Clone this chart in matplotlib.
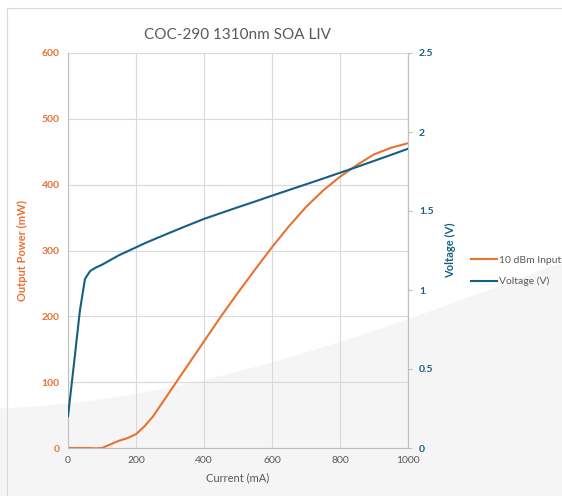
import matplotlib
matplotlib.use("Agg")
import numpy as np
import matplotlib.pyplot as plt
from matplotlib.patches import Polygon, Rectangle
from matplotlib.ticker import FuncFormatter

# Data
current_ma = [0, 20, 35, 50, 65, 80, 100, 150, 175, 200, 225, 250, 300, 350,
              400, 450, 500, 550, 600, 650, 700, 750, 800, 850, 900, 950, 1000]
power_mw = [0, 0, 0, 0, 0, -0.5, 0, 11, 15, 21, 33, 48, 86, 124,
            162, 200, 236, 271, 305, 337, 366, 391, 412, 430, 446, 456, 463]
voltage_v = [0.20, 0.58, 0.87, 1.07, 1.12, 1.14, 1.16, 1.22, 1.245, 1.27, 1.295, 1.318, 1.363, 1.407,
             1.45, 1.487, 1.524, 1.56, 1.597, 1.633, 1.669, 1.705, 1.742, 1.779, 1.817, 1.855, 1.894]
power_ticks = [0, 100, 200, 300, 400, 500, 600]
voltage_ticks = [0, 0.5, 1, 1.5, 2, 2.5]
current_ticks = [0, 200, 400, 600, 800, 1000]

orange = "#E97132"
teal = "#156082"
grey_txt = "#595959"

plt.rcParams['font.family'] = ['Lato', 'DejaVu Sans']

W, H = 562, 496
fig = plt.figure(figsize=(W / 100, H / 100), dpi=100)
fig.patch.set_facecolor("white")

# background swoosh (decoration), smooth edge through points
edge_x = [0, 63, 127, 190, 253, 317, 379, 450, 523, 562]
edge_y = [409, 404, 393, 383, 370, 350, 328, 303, 277, 263]
coef = np.polyfit(edge_x, edge_y, 3)
xs = np.linspace(0, W, 120)
ys = np.polyval(coef, xs)
pts = [(x / W, 1 - y / H) for x, y in zip(xs, ys)] + [(1, 0), (0, 0)]
fig.add_artist(Polygon(pts, closed=True, transform=fig.transFigure,
                       facecolor="#f5f5f5", edgecolor="none", zorder=0))
# card border
fig.add_artist(Rectangle((7 / W, -0.1), 1.2, 1.1 - 8 / H, transform=fig.transFigure,
                         facecolor="none", edgecolor="#d9d9d9", lw=0.8, zorder=0))

ax = fig.add_axes([68 / W, 1 - 448 / H, (408 - 68) / W, (448 - 53) / H])
ax.patch.set_alpha(0)
ax.plot(current_ma, power_mw, color=orange, lw=1.5, label="10 dBm Input")
ax.set_xlim(0, 1000)
ax.set_ylim(0, 600)
ax.set_xticks(current_ticks)
ax.set_yticks(power_ticks)
ax.grid(True, color="#d9d9d9", lw=0.8)
ax.set_axisbelow(True)
ax.spines["top"].set_visible(False)
for s in ["left", "bottom", "right"]:
    ax.spines[s].set_color("#bfbfbf")
    ax.spines[s].set_linewidth(0.8)
ax.tick_params(axis="both", length=0, pad=6)
ax.tick_params(axis="x", labelsize=7.5, labelcolor=grey_txt)
ax.tick_params(axis="y", labelsize=7.5, labelcolor=orange)
for lab in ax.get_yticklabels():
    lab.set_fontweight("bold")
ax.set_xlabel("Current (mA)", fontsize=8, color=grey_txt, labelpad=5)
ax.set_ylabel("Output Power (mW)", fontsize=8, color=orange, fontweight="bold", labelpad=10)

ax2 = ax.twinx()
ax2.plot(current_ma, voltage_v, color=teal, lw=1.5, label="Voltage (V)")
ax2.set_ylim(0, 2.5)
ax2.set_yticks(voltage_ticks)
ax2.yaxis.set_major_formatter(FuncFormatter(lambda v, p: f"{v:g}"))
for s in ["top", "left", "bottom"]:
    ax2.spines[s].set_visible(False)
ax2.spines["right"].set_color("#bfbfbf")
ax2.spines["right"].set_linewidth(0.8)
ax2.tick_params(axis="y", length=3, width=0.8, color="#bfbfbf", pad=5,
                labelsize=7.5, labelcolor=teal)
for lab in ax2.get_yticklabels():
    lab.set_fontweight("bold")
ax2.set_ylabel("Voltage (V)", fontsize=8, color=teal, fontweight="bold", labelpad=8)

fig.text(238 / W, 1 - 35 / H, "COC-290 1310nm SOA LIV", ha="center", va="center",
         fontsize=11, color=grey_txt)

h1, l1 = ax.get_legend_handles_labels()
h2, l2 = ax2.get_legend_handles_labels()
fig.legend(h1 + h2, l1 + l2, loc="center left", bbox_to_anchor=(471 / W, 1 - 271 / H),
           frameon=False, fontsize=7.5, handlelength=2.5, handletextpad=0.2,
           labelspacing=1.1, borderpad=0, borderaxespad=0, labelcolor=grey_txt)

fig.savefig("out.png", dpi=100)
plt.close()
